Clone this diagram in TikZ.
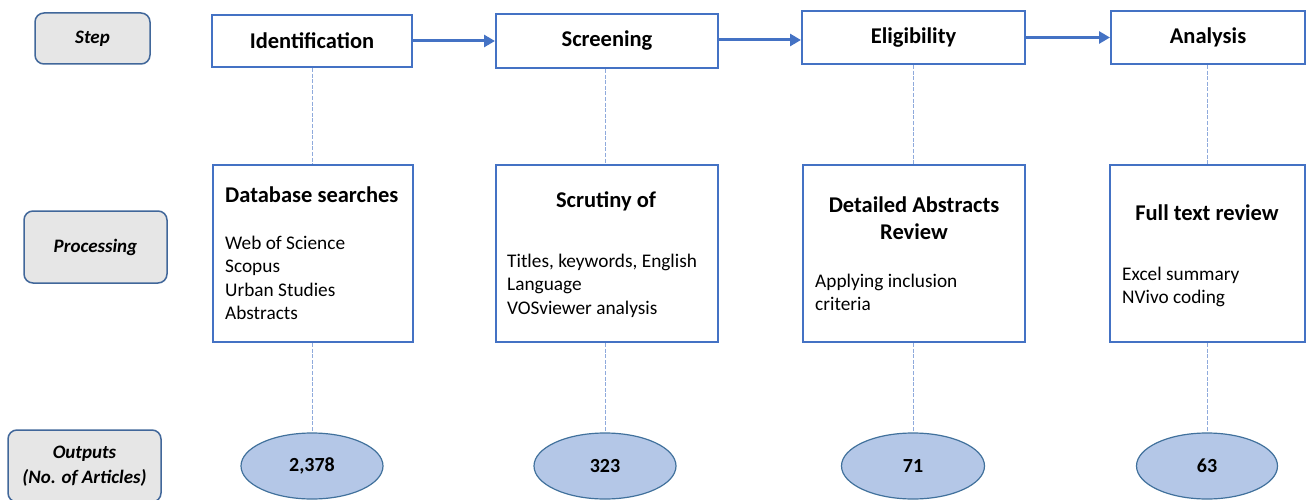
\documentclass[tikz,border=0pt]{standalone}
\usepackage{fontspec}
\setmainfont{Carlito}
\usetikzlibrary{shapes.geometric,arrows.meta}
\definecolor{boxblue}{HTML}{4472C4}
\definecolor{lblborder}{HTML}{41679A}
\definecolor{lblfill}{HTML}{E6E6E6}
\definecolor{ellfill}{HTML}{B4C7E7}
\definecolor{ellborder}{HTML}{41719C}
\definecolor{dotblue}{HTML}{8FAADC}
\tikzset{
  lbl/.style={draw=lblborder, fill=lblfill, line width=1.5pt, rounded corners=9pt, inner sep=0pt, align=center, font=\fontsize{19}{25}\selectfont\bfseries\itshape},
  stepbox/.style={draw=boxblue, line width=2pt, inner sep=0pt, font=\fontsize{22.5}{27}\selectfont\bfseries},
  procbox/.style={draw=boxblue, line width=2pt, inner sep=0pt},
  ptitle/.style={inner sep=0pt, align=center, font=\fontsize{22.5}{27}\selectfont\bfseries},
  plist/.style={inner sep=0pt, align=left, font=\fontsize{19.3}{23.3}\selectfont},
  outell/.style={ellipse, draw=ellborder, fill=ellfill, line width=1.2pt, inner sep=0pt, font=\fontsize{20}{24}\selectfont\bfseries},
  flow/.style={draw=boxblue, line width=3pt, -{Triangle[length=11pt,width=12pt]}},
  guide/.style={draw=dotblue, line width=0.9pt, dash pattern=on 4pt off 1.6pt}
}
\begin{document}
\begin{tikzpicture}[x=1pt,y=-1pt]
\useasboundingbox (0,0) rectangle (1306,500);
% left labels
\node[lbl, minimum width=115pt, minimum height=51pt, text depth=2pt] (lstep) at (92.5,38.5) {Step};
\node[lbl, minimum width=143pt, minimum height=72pt] (lproc) at (95.5,247) {Processing};
\node[lbl, minimum width=153pt, minimum height=72pt] (lout) at (84.5,466) {Outputs\\(No. of Articles)};
% step boxes
\node[stepbox, minimum width=200pt, minimum height=52pt] (s1) at (312,41) {Identification};
\node[stepbox, minimum width=222pt, minimum height=54pt] (s2) at (607,41) {Screening};
\node[stepbox, minimum width=223pt, minimum height=53pt] (s3) at (913.5,37.5) {Eligibility};
\node[stepbox, minimum width=194pt, minimum height=53pt] (s4) at (1208,37.5) {Analysis};
\draw[flow] (s1.east) -- (s2.west |- s1.east);
\draw[flow] (s2.east) ++(0,-1) coordinate (a2s) -- (s3.west |- a2s);
\draw[flow] (s3.east) -- (s4.west);
% processing boxes
\node[procbox, minimum width=200pt, minimum height=177pt] (p1) at (313,253.5) {};
\node[procbox, minimum width=222pt, minimum height=177pt] (p2) at (607,253.5) {};
\node[procbox, minimum width=222pt, minimum height=177pt] (p3) at (914,253.5) {};
\node[procbox, minimum width=195pt, minimum height=177pt] (p4) at (1207.5,253.5) {};
\node[ptitle, anchor=west] (t1) at (225,195) {Database searches};
\node[plist, anchor=north west] (l1) at (225,236) {Web of Science\\Scopus\\Urban Studies\\Abstracts};
\node[ptitle] (t2) at (606,201) {Scrutiny of};
\node[plist, anchor=north west] (l2) at (507,254) {Titles, keywords, English\\Language\\VOSviewer analysis};
\node[ptitle] (t3) at (914,218.5) {Detailed Abstracts\\Review};
\node[plist, anchor=north west] (l3) at (815,273.5) {Applying inclusion\\criteria};
\node[ptitle] (t4) at (1207,213) {Full text review};
\node[plist, anchor=north west] (l4) at (1122,266.5) {Excel summary\\NVivo coding};
% outputs
\node[outell, minimum width=142pt, minimum height=66pt] (o1) at (312,466) {2,378};
\node[outell, minimum width=142pt, minimum height=66pt] (o2) at (605,466) {323};
\node[outell, minimum width=143pt, minimum height=66pt] (o3) at (913,466) {71};
\node[outell, minimum width=141pt, minimum height=66pt] (o4) at (1207,466) {63};
% guides
\draw[guide] (s1.south -| o1.north) -- (p1.north -| o1.north);
\draw[guide] (p1.south -| o1.north) -- (o1.north);
\draw[guide] (s2.south -| o2.north) -- (p2.north -| o2.north);
\draw[guide] (p2.south -| o2.north) -- (o2.north);
\draw[guide] (s3.south -| o3.north) -- (p3.north -| o3.north);
\draw[guide] (p3.south -| o3.north) -- (o3.north);
\draw[guide] (s4.south -| o4.north) -- (p4.north -| o4.north);
\draw[guide] (p4.south -| o4.north) -- (o4.north);
\end{tikzpicture}
\end{document}
